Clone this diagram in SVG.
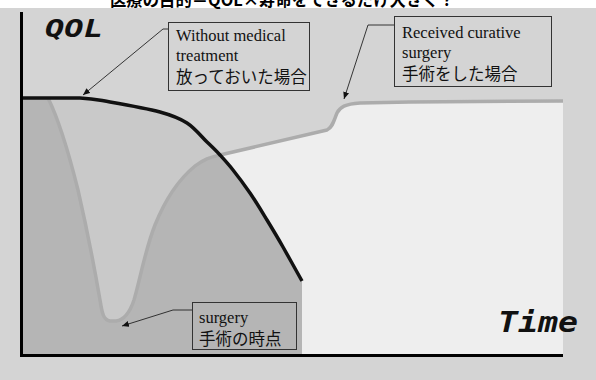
<svg xmlns="http://www.w3.org/2000/svg" width="596" height="380" viewBox="0 0 596 380">
<defs>
<style>
.box{fill:none;stroke:#333;stroke-width:1}
.en{font-family:"Liberation Serif","Times New Roman",serif;font-size:16.5px;fill:#111}
.jp{font-family:"Noto Sans CJK JP","Noto Sans",sans-serif;font-size:16.5px;fill:#111}
.ax{font-family:"DejaVu Sans Mono","Liberation Mono",monospace;font-weight:bold;font-style:italic;fill:#111}
.conn{fill:none;stroke:#222;stroke-width:0.9}
</style>
<marker id="ah" markerUnits="userSpaceOnUse" markerWidth="8" markerHeight="6" refX="7" refY="3" orient="auto">
<path d="M0,0 L7,3 L0,6 Z" fill="#111"/>
</marker>
</defs>
<rect x="0" y="0" width="596" height="380" fill="#ffffff"/>
<rect x="0" y="8" width="596" height="372" fill="#d4d4d4"/>
<text x="110" y="6" font-family="'Noto Sans CJK JP','Noto Sans',sans-serif" font-weight="bold" font-size="17" textLength="345" lengthAdjust="spacingAndGlyphs" fill="#000">医療の目的＝QOL×寿命をできるだけ大きく？</text>
<g id="areas">
<path d="M21,98 L80,98 C94.7,98.7 96.7,99.7 110,102 C123.3,104.3 147.2,108.5 160,112 C172.8,115.5 179.2,118 187,123 C194.8,128 201.5,136.7 207,142 C212.5,147.3 215.7,150.3 220,155 C224.3,159.7 228,163.7 233,170 C238,176.3 244.3,184.7 250,193 C255.7,201.3 261.5,211 267,220 C272.5,229 277.2,236.8 283,247 C288.8,257.2 298.8,275.3 302,281 L302,355 L21,355 Z" fill="#b5b5b5"/>
<path d="M48,98 C58,118 68,150 78,190 C86,225 94,265 100,300 C102,312 103,320 110,321 L116,321 C124,320 130,312 134,300 C140,280 145,250 155,225 C165,200 178,180 195,166 C205,158 212,157 220,155 C215.7,150.3 212.5,147.3 207,142 C201.5,136.7 194.8,128 187,123 C179.2,118 172.8,115.5 160,112 C147.2,108.5 123.3,104.3 110,102 C96.7,99.7 94.7,98.7 80,98 Z" fill="#c9c9c9"/>
<path d="M220,155 L327,130 C333,127 334,120 337,113 C340,107 345,104 360,103 L410,102 L563,101 L563,355 L302,355 L302,281 C298.8,275.3 288.8,257.2 283,247 C277.2,236.8 272.5,229 267,220 C261.5,211 255.7,201.3 250,193 C244.3,184.7 238,176.3 233,170 C228,163.7 224.3,159.7 220,155 Z" fill="#eeeeee"/>
</g>
<g id="curve-surgery">
<path d="M48,98 C58,118 68,150 78,190 C86,225 94,265 100,300 C102,312 103,320 110,321 L116,321 C124,320 130,312 134,300 C140,280 145,250 155,225 C165,200 178,180 195,166 C205,158 212,157 220,155 L327,130 C333,127 334,120 337,113 C340,107 345,104 360,103 L410,102 L563,101" fill="none" stroke="#acacac" stroke-width="3.5" stroke-linejoin="round"/>
</g>
<g id="curve-no-treatment">
<path d="M21,98 L80,98 C94.7,98.7 96.7,99.7 110,102 C123.3,104.3 147.2,108.5 160,112 C172.8,115.5 179.2,118 187,123 C194.8,128 201.5,136.7 207,142 C212.5,147.3 215.7,150.3 220,155 C224.3,159.7 228,163.7 233,170 C238,176.3 244.3,184.7 250,193 C255.7,201.3 261.5,211 267,220 C272.5,229 277.2,236.8 283,247 C288.8,257.2 298.8,275.3 302,281" fill="none" stroke="#111" stroke-width="3.5"/>
</g>
<g id="axes">
<line x1="21.5" y1="12" x2="21.5" y2="357" stroke="#000" stroke-width="3"/>
<line x1="20" y1="355.5" x2="563" y2="355.5" stroke="#000" stroke-width="3"/>
<text class="ax" x="45" y="37" font-size="24" textLength="58" lengthAdjust="spacingAndGlyphs">QOL</text>
<text class="ax" x="498" y="332" font-size="28" textLength="80" lengthAdjust="spacingAndGlyphs">Time</text>
</g>
<g id="label-without">
<rect class="box" x="168.5" y="22.5" width="141" height="68"/>
<text class="en" x="176" y="41">Without medical</text>
<text class="en" x="176" y="61">treatment</text>
<text class="jp" x="176" y="83">放っておいた場合</text>
</g>
<g id="label-received">
<rect class="box" x="394.5" y="16.5" width="157" height="70"/>
<text class="en" x="402" y="38">Received curative</text>
<text class="en" x="402" y="58">surgery</text>
<text class="jp" x="402" y="80">手術をした場合</text>
</g>
<g id="label-surgery">
<rect class="box" x="192.5" y="302.5" width="104" height="47"/>
<text class="en" x="199" y="323">surgery</text>
<text class="jp" x="199" y="345">手術の時点</text>
</g>
<g id="connectors">
<polyline class="conn" points="168,29 163,29 83,95" marker-end="url(#ah)"/>
<polyline class="conn" points="394,25 368,25 344,99" marker-end="url(#ah)"/>
<polyline class="conn" points="192,310 173,310 122,326" marker-end="url(#ah)"/>
</g>
</svg>
